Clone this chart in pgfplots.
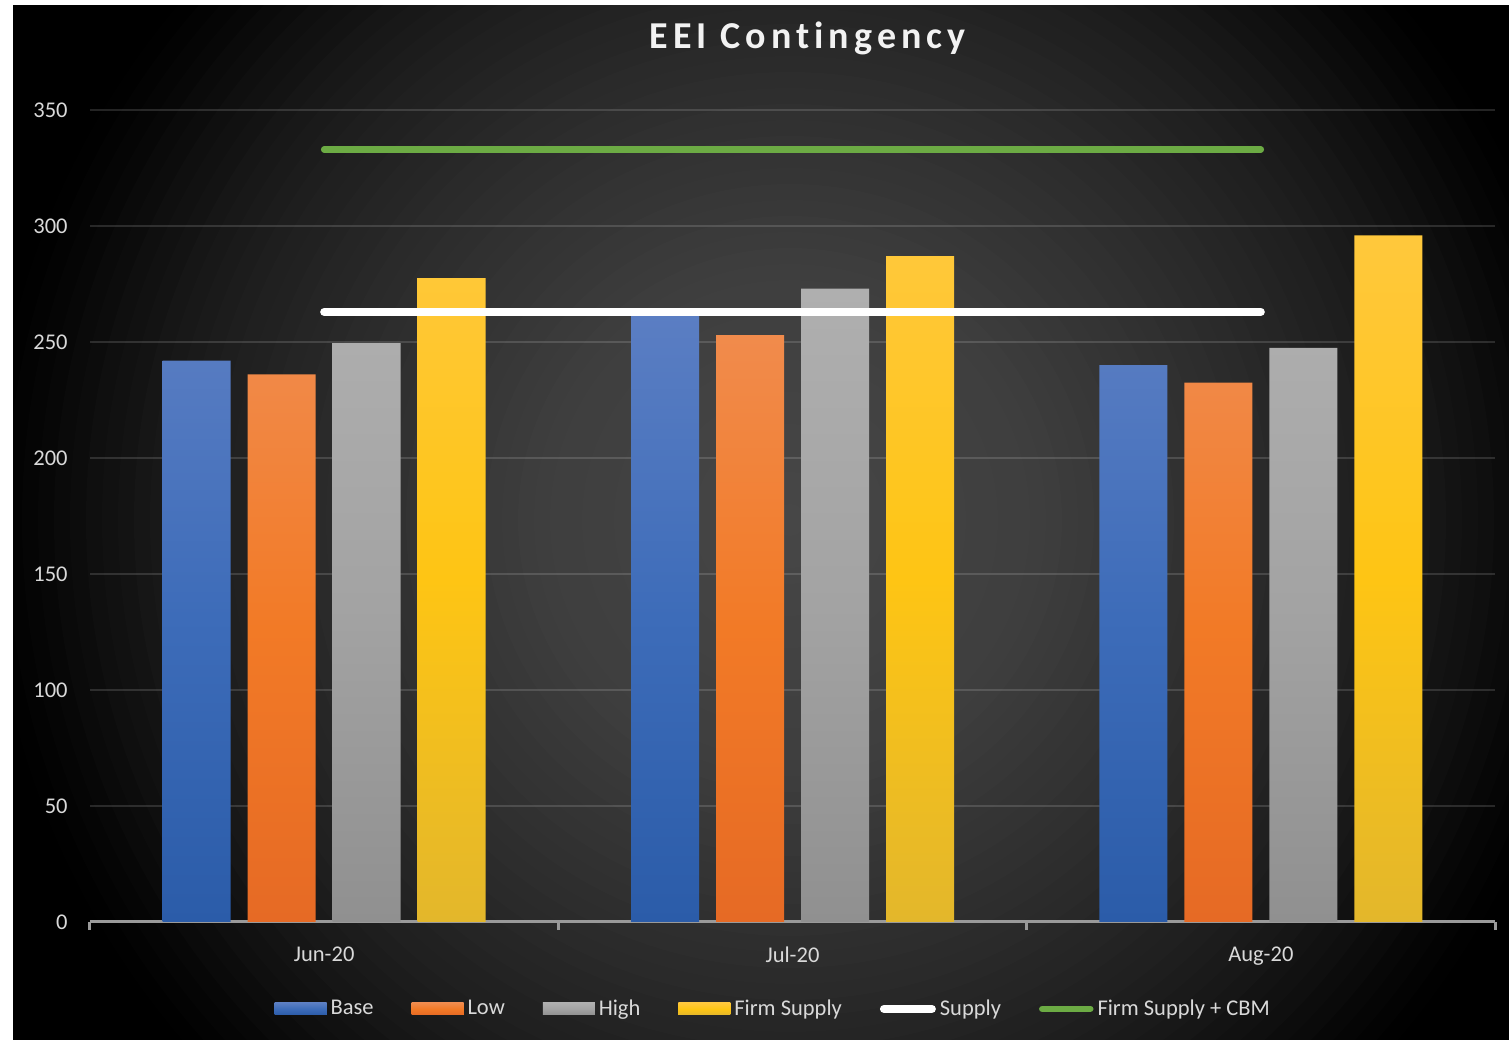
\documentclass[border=0pt]{standalone}
\usepackage{fontspec}
\setmainfont{Carlito}
\newfontfamily\titlefont[LetterSpace=13.3,Ligatures={NoCommon}]{Carlito}
\usepackage{pgfplots}
\pgfplotsset{compat=1.18}

\definecolor{tickgray}{HTML}{D9D9D9}
\definecolor{axisgray}{HTML}{9A9A9A}
\definecolor{blueT}{HTML}{5B7EC3}\definecolor{blueM}{HTML}{3D6CB9}\definecolor{blueB}{HTML}{2B5CA9}
\definecolor{orT}{HTML}{F18B4C}\definecolor{orM}{HTML}{F27A26}\definecolor{orB}{HTML}{E66A25}
\definecolor{grT}{HTML}{AFAFAF}\definecolor{grM}{HTML}{A3A3A3}\definecolor{grB}{HTML}{909090}
\definecolor{yeT}{HTML}{FFC83C}\definecolor{yeM}{HTML}{FEC514}\definecolor{yeB}{HTML}{E3B72B}
\definecolor{cbm}{HTML}{6CAB44}

\begin{document}
\begin{tikzpicture}
\useasboundingbox (0,0) rectangle (754.5bp,520bp);
\begin{scope}
\clip (6.5bp,0) rectangle (754.5bp,517.5bp);
\fill[black] (6.5bp,0) rectangle (754.5bp,517.5bp);
\foreach \r in {400,392,...,8}{
  \pgfmathsetmacro\px{2*\r-8}
  \pgfmathsetmacro\g{\px<=250 ? 71-9*\px/250 : (\px<=460 ? 62-19*(\px-250)/210 : (\px<=620 ? 43-17*(\px-460)/160 : (\px<=760 ? 26-21*(\px-620)/140 : max(0,5-5*(\px-760)/40))))}
  \pgfmathtruncatemacro\gi{round(\g)}
  \definecolor{bgc}{RGB}{\gi,\gi,\gi}
  \fill[bgc] (395bp,260bp) circle (\r bp);
}
\end{scope}
\fill[white] (0,517.5bp) rectangle (754.5bp,520bp);
\fill[white] (0,0) rectangle (6.5bp,520bp);
\node[anchor=base, text=white!95!black, font=\titlefont\bfseries\fontsize{19bp}{21bp}\selectfont] at (403.75bp,495.85bp) {EEI Contingency};

\begin{axis}[
  at={(45bp,59bp)}, anchor=south west,
  scale only axis, width=702.5bp, height=406bp,
  xmin=-0.5, xmax=2.5, ymin=0, ymax=350,
  ytick={0,50,...,350},
  xtick={-0.5,0.5,1.5,2.5},
  xticklabels={Jun-20,Jul-20,Aug-20},
  x tick label as interval,
  axis x line*=bottom, axis y line*=left,
  y axis line style={draw=none},
  x axis line style={draw=axisgray, line width=1.5bp},
  ytick style={draw=none},
  xtick style={draw=axisgray, line width=1.5bp},
  tick align=outside, major tick length=4bp,
  ymajorgrids,
  grid style={white, opacity=0.14, line width=1bp},
  /pgf/number format/assume math mode=true,
  ticklabel style={font=\fontsize{11.25bp}{13bp}\selectfont, text=tickgray},
  yticklabel style={anchor=east, inner sep=0pt, xshift=-7bp},
  xticklabel style={anchor=north, inner sep=0pt, yshift=-8bp},
  legend columns=6,
  legend style={at={(0.487,-0.107)}, anchor=center, draw=none, fill=none,
    font=\fontsize{11.25bp}{13bp}\selectfont, text=tickgray,
    /tikz/every even column/.append style={column sep=17bp}},
]
\addplot[ybar, bar width=34bp, bar shift=-63.75bp, draw=none,
  top color=blueT, bottom color=blueB, middle color=blueM,
  legend image code/.code={\fill[blueM] (0bp,-3bp) rectangle (26bp,3bp);}]
  coordinates {(0,242) (1,263) (2,240)};
\addplot[ybar, bar width=34bp, bar shift=-21.25bp, draw=none,
  top color=orT, bottom color=orB, middle color=orM,
  legend image code/.code={\fill[orM] (0bp,-3bp) rectangle (26bp,3bp);}]
  coordinates {(0,236) (1,253) (2,232.5)};
\addplot[ybar, bar width=34bp, bar shift=21.25bp, draw=none,
  top color=grT, bottom color=grB, middle color=grM,
  legend image code/.code={\fill[grM] (0bp,-3bp) rectangle (26bp,3bp);}]
  coordinates {(0,249.5) (1,273) (2,247.5)};
\addplot[ybar, bar width=34bp, bar shift=63.75bp, draw=none,
  top color=yeT, bottom color=yeB, middle color=yeM,
  legend image code/.code={\fill[yeM] (0bp,-3bp) rectangle (26bp,3bp);}]
  coordinates {(0,277.5) (1,287) (2,296)};
\addplot[white, line width=4bp, line cap=round, mark=none,
  legend image code/.code={\draw[white, line width=4bp, line cap=round] (2bp,0) -- (26bp,0);}]
  coordinates {(0,263) (1,263) (2,263)};
\addplot[cbm, line width=3.25bp, line cap=round, mark=none,
  legend image code/.code={\draw[cbm, line width=3.25bp, line cap=round] (2bp,0) -- (26bp,0);}]
  coordinates {(0,333) (1,333) (2,333)};
\legend{Base,Low,High,Firm Supply,Supply,Firm Supply + CBM}
\end{axis}
\end{tikzpicture}
\end{document}
